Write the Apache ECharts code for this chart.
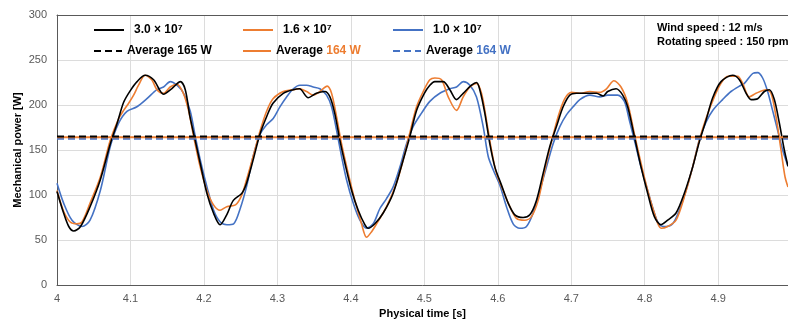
<!DOCTYPE html>
<html>
<head>
<meta charset="utf-8">
<script src="https://cdn.jsdelivr.net/npm/echarts@6.0.0/dist/echarts.min.js"></script>
<style>
  html, body { margin: 0; padding: 0; background: #fff; }
  #chart { width: 788px; height: 322px; }
</style>
</head>
<body>
<div id="chart"></div>
<script>
// mechanical power [W] vs physical time [s]
const power30 = [
  [4.000, 104], [4.009, 80], [4.016, 65], [4.0227, 60], [4.032, 65], [4.045, 87], [4.059, 117],
  [4.0726, 157], [4.082, 180], [4.0907, 203], [4.0998, 216], [4.109, 226], [4.120, 233],
  [4.1315, 228], [4.145, 212], [4.156, 218], [4.168, 226], [4.1746, 217], [4.181, 187],
  [4.188, 161], [4.195, 135], [4.204, 102], [4.213, 80], [4.222, 67], [4.231, 78], [4.240, 94],
  [4.2517, 102], [4.258, 113], [4.267, 139], [4.276, 167], [4.2853, 187], [4.294, 202],
  [4.308, 213], [4.3216, 217], [4.330, 218], [4.342, 208], [4.353, 213], [4.3646, 215],
  [4.3715, 209], [4.378, 191], [4.385, 161], [4.392, 135], [4.401, 105], [4.410, 83],
  [4.419, 67], [4.4236, 63], [4.4327, 68], [4.444, 80], [4.4576, 102], [4.4712, 139],
  [4.4803, 165], [4.4894, 194], [4.500, 213], [4.5075, 222], [4.5143, 226], [4.5256, 226],
  [4.5347, 217], [4.5438, 206], [4.5529, 213], [4.5642, 222], [4.571, 225], [4.5755, 217],
  [4.5823, 191], [4.5891, 157], [4.596, 131], [4.605, 111], [4.6141, 91], [4.6232, 78],
  [4.6345, 75], [4.6436, 78], [4.6526, 94], [4.6617, 124], [4.6708, 154], [4.6798, 176],
  [4.6889, 198], [4.698, 211], [4.707, 213], [4.7207, 213], [4.7343, 213], [4.7433, 210],
  [4.7496, 215], [4.761, 218], [4.770, 211], [4.7768, 198], [4.7859, 165], [4.795, 131],
  [4.804, 102], [4.8131, 76], [4.8222, 67], [4.8312, 72], [4.8426, 80], [4.8539, 102],
  [4.8652, 131], [4.8743, 159], [4.8834, 183], [4.8925, 208], [4.9038, 226], [4.9197, 233],
  [4.9288, 228], [4.938, 213], [4.9447, 206], [4.9537, 207], [4.9628, 215], [4.9696, 217],
  [4.9764, 206], [4.9832, 180], [4.990, 150], [4.995, 132]
];
const power16 = [
  [4.000, 105], [4.009, 82], [4.018, 70], [4.027, 68], [4.034, 70], [4.045, 91], [4.059, 120],
  [4.0726, 161], [4.084, 185], [4.0907, 194], [4.0975, 202], [4.1043, 211], [4.111, 222],
  [4.120, 233], [4.129, 228], [4.136, 217], [4.145, 213], [4.154, 220], [4.163, 223],
  [4.172, 213], [4.179, 194], [4.186, 165], [4.195, 131], [4.204, 105], [4.213, 89],
  [4.222, 83], [4.231, 87], [4.243, 89], [4.251, 99], [4.258, 117], [4.267, 143], [4.276, 170],
  [4.2853, 193], [4.294, 207], [4.308, 215], [4.3216, 217], [4.330, 218], [4.3397, 215],
  [4.349, 211], [4.3578, 215], [4.3678, 221], [4.3737, 213], [4.3805, 187], [4.3873, 157],
  [4.3964, 124], [4.4055, 94], [4.4145, 68], [4.4213, 53], [4.428, 59], [4.435, 68],
  [4.4486, 87], [4.462, 113], [4.4712, 139], [4.480, 168], [4.4894, 198], [4.4985, 215],
  [4.5075, 228], [4.5143, 230], [4.5234, 228], [4.5325, 209], [4.5438, 194], [4.5529, 209],
  [4.562, 220], [4.571, 224], [4.5778, 213], [4.5846, 183], [4.5914, 150], [4.5982, 124],
  [4.6073, 105], [4.6164, 87], [4.6254, 74], [4.6368, 72], [4.6458, 76], [4.6549, 94],
  [4.664, 128], [4.673, 159], [4.6821, 187], [4.6912, 207], [4.7003, 214], [4.7116, 213],
  [4.7252, 215], [4.7388, 214], [4.7479, 218], [4.758, 227], [4.7677, 220], [4.7768, 202],
  [4.7859, 168], [4.795, 135], [4.804, 105], [4.8131, 80], [4.8222, 63], [4.8312, 65],
  [4.8426, 72], [4.8539, 98], [4.8652, 131], [4.8743, 161], [4.8834, 185], [4.8947, 209],
  [4.9038, 224], [4.9129, 232], [4.9265, 232], [4.9333, 224], [4.9424, 209], [4.9515, 213],
  [4.965, 217], [4.9719, 213], [4.9787, 187], [4.9855, 150], [4.991, 120], [4.995, 109]
];
const power10 = [
  [4.000, 113], [4.009, 91], [4.0204, 72], [4.034, 65], [4.045, 72], [4.059, 105], [4.0726, 154],
  [4.084, 180], [4.0952, 193], [4.1088, 198], [4.1224, 207], [4.136, 217], [4.145, 220],
  [4.1542, 226], [4.1633, 222], [4.1723, 213], [4.1814, 193], [4.1882, 165], [4.195, 139],
  [4.2041, 109], [4.2132, 83], [4.2222, 70], [4.2313, 67], [4.2404, 68], [4.2494, 85],
  [4.2585, 111], [4.267, 143], [4.2762, 167], [4.2853, 178], [4.2943, 185], [4.3034, 198],
  [4.3125, 209], [4.3216, 218], [4.3306, 222], [4.3397, 222], [4.3488, 220], [4.3578, 218],
  [4.3669, 211], [4.3737, 198], [4.3805, 172], [4.3873, 143], [4.3941, 117], [4.4032, 91],
  [4.4123, 72], [4.4213, 63], [4.4304, 68], [4.4395, 85], [4.4485, 96], [4.4576, 109],
  [4.4667, 131], [4.4758, 157], [4.4848, 176], [4.4962, 191], [4.5075, 204], [4.5211, 213],
  [4.5347, 218], [4.5438, 220], [4.5529, 226], [4.562, 222], [4.571, 209], [4.5801, 176],
  [4.5869, 143], [4.5937, 128], [4.6027, 111], [4.6118, 87], [4.6209, 68], [4.630, 63],
  [4.639, 65], [4.6481, 80], [4.6572, 105], [4.6662, 131], [4.6753, 157], [4.6844, 176],
  [4.6934, 189], [4.7025, 198], [4.7116, 206], [4.7252, 211], [4.7388, 209], [4.7496, 211],
  [4.7632, 211], [4.7723, 204], [4.7791, 183], [4.7859, 161], [4.795, 131], [4.804, 105],
  [4.8131, 80], [4.8199, 67], [4.829, 65], [4.838, 68], [4.8471, 83], [4.8562, 105],
  [4.8652, 131], [4.8743, 161], [4.8834, 181], [4.8925, 194], [4.906, 206], [4.9174, 215],
  [4.931, 222], [4.9356, 224], [4.9469, 235], [4.9537, 236], [4.9605, 230], [4.9673, 215],
  [4.974, 194], [4.9809, 172], [4.9877, 150], [4.995, 132]
];

const curveNames = ['3.0 × 10⁷', '1.6 × 10⁷', '1.0 × 10⁷'];
const avgNames = ['avg30', 'avg16', 'avg10'];
const avgPower = [165, 164.3, 162.5];
const avgLabels = ['165 W', '164 W', '164 W'];

const colors = ['#000000', '#ED7D31', '#4472C4'];
const avgDash = [[7, 4], 'solid', [7, 4]];
const xMin = 4, xMax = 4.995;
const FONT = '"Liberation Sans", Arial, sans-serif';

const curves = [power30, power16, power10];

const series = [];
curves.forEach((data, i) => {
  series.push({
    name: curveNames[i],
    type: 'line',
    data: data,
    symbol: 'none',
    smooth: 0.3,
    lineStyle: { color: colors[i], width: 1.6 },
    itemStyle: { color: colors[i] },
    z: 5 - i
  });
});
avgPower.forEach((v, i) => {
  series.push({
    name: avgNames[i],
    type: 'line',
    data: [[xMin, v], [xMax, v]],
    symbol: 'none',
    lineStyle: { color: colors[i], width: 2, type: avgDash[i] },
    itemStyle: { color: colors[i] },
    z: 10 - i
  });
});

// one legend per item so each sits where it does in the figure
const legendLeft = [93, 242, 392];
const legends = [];
curveNames.forEach((name, i) => {
  legends.push({
    data: [name],
    left: legendLeft[i], top: 24,
    padding: 0, itemWidth: 30, itemHeight: 14,
    itemStyle: { opacity: 0 },
    textStyle: { fontFamily: FONT, fontSize: 12, fontWeight: 'bold', color: '#000', padding: [0, 0, 0, 5] }
  });
});
avgNames.forEach((name, i) => {
  legends.push({
    data: [name],
    left: legendLeft[i], top: 45,
    padding: 0, itemWidth: 28, itemHeight: 14,
    itemStyle: { opacity: 0 },
    formatter: () => '{a|Average} {b|' + avgLabels[i] + '}',
    textStyle: {
      fontFamily: FONT, fontSize: 12, fontWeight: 'bold', color: '#000',
      rich: {
        a: { fontFamily: FONT, fontSize: 12, fontWeight: 'bold', color: '#000' },
        b: { fontFamily: FONT, fontSize: 12, fontWeight: 'bold', color: colors[i] }
      }
    }
  });
});

const axisFrame = {
  type: 'value',
  min: xMin, max: xMax,
  position: 'top',
  axisLine: { show: true, lineStyle: { color: '#595959', width: 1 } },
  axisTick: { show: false },
  axisLabel: { show: false },
  splitLine: { show: false }
};

const chart = echarts.init(document.getElementById('chart'), null, { renderer: 'canvas' });
chart.setOption({
  animation: false,
  backgroundColor: '#fff',
  title: {
    text: 'Wind speed : 12 m/s\nRotating speed : 150 rpm',
    left: 657, top: 21, padding: 0,
    textStyle: { fontFamily: FONT, fontSize: 11, fontWeight: 'bold', color: '#000', lineHeight: 14 }
  },
  legend: legends,
  grid: { left: 57, right: 0, top: 15, bottom: 37, outerBoundsMode: 'none', containLabel: false },
  xAxis: [{
    type: 'value',
    min: xMin, max: xMax, interval: 0.1,
    name: 'Physical time [s]',
    nameLocation: 'middle', nameGap: 23,
    nameTextStyle: { fontFamily: FONT, fontSize: 11, fontWeight: 'bold', color: '#000' },
    axisLine: { show: true, lineStyle: { color: '#595959', width: 1 } },
    axisTick: { show: false },
    axisLabel: { fontFamily: FONT, fontSize: 11, color: '#595959', margin: 8, showMaxLabel: false },
    splitLine: { show: true, lineStyle: { color: '#dcdcdc', width: 1 } }
  }, axisFrame],
  yAxis: {
    type: 'value',
    min: 0, max: 300, interval: 50,
    name: 'Mechanical power [W]',
    nameLocation: 'middle', nameGap: 34, nameMoveOverlap: false,
    nameTextStyle: { fontFamily: FONT, fontSize: 11, fontWeight: 'bold', color: '#000' },
    axisLine: { show: true, lineStyle: { color: '#595959', width: 1 } },
    axisTick: { show: false },
    axisLabel: { fontFamily: FONT, fontSize: 11, color: '#595959', margin: 10 },
    splitLine: { show: true, lineStyle: { color: '#dcdcdc', width: 1 } }
  },
  series: series
});
</script>
</body>
</html>
